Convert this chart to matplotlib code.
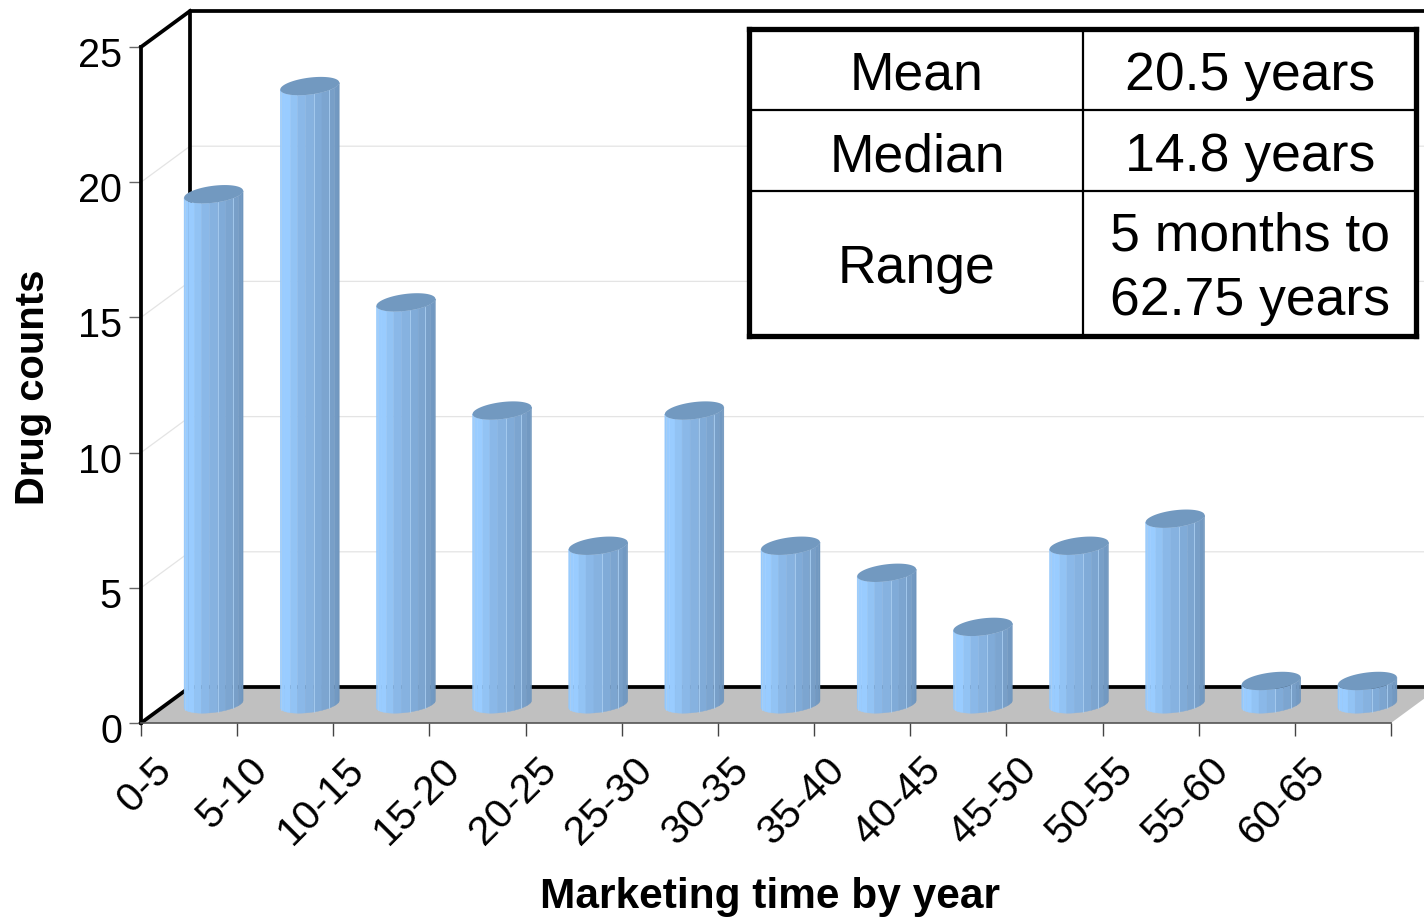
import numpy as np
import matplotlib
matplotlib.use("Agg")
import matplotlib.pyplot as plt
from matplotlib.transforms import ScaledTranslation

plt.rcParams['font.family'] = ['Liberation Sans', 'DejaVu Sans']

categories = ['0-5', '5-10', '10-15', '15-20', '20-25', '25-30', '30-35',
              '35-40', '40-45', '45-50', '50-55', '55-60', '60-65']
counts = [19, 23, 15, 11, 6, 11, 6, 5, 3, 6, 7, 1, 1]
y_ticks = [0, 5, 10, 15, 20, 25]
table_rows = [('Mean', '20.5 years'), ('Median', '14.8 years'),
              ('Range', '5 months to\n62.75 years')]

W, H = 1424, 917
L, R, B, T = 141, 1391, 723, 47
PX = (R - L) / len(categories)      # pixels per category
PY = (B - T) / 25                   # pixels per count
DX, DY = 49 / PX, 36 / PY           # chart depth in data units

fig = plt.figure(figsize=(W / 100, H / 100), dpi=100, facecolor='white')
ax = fig.add_axes([L / W, 1 - B / H, (R - L) / W, (B - T) / H])
ax.set_xlim(0, len(categories))
ax.set_ylim(0, 25)
ax.patch.set_visible(False)

# walls and floor
ax.fill([0, 13, 13 + DX, DX], [0, 0, DY, DY], color='#C0C0C0', lw=0, clip_on=False, zorder=1)
for v in y_ticks[1:]:
    ax.plot([0, DX, 13 + DX], [v, v + DY, v + DY], color='#E4E4E4', lw=0.9,
            clip_on=False, zorder=0.5)
black = dict(color='black', lw=2.7, clip_on=False, zorder=1.5, solid_capstyle='projecting')
ax.plot([DX, DX, 13 + DX], [DY, 25 + DY, 25 + DY], **black)
ax.plot([0, DX], [25, 25 + DY], **black)
ax.plot([0, DX], [0, DY], **black)
ax.plot([DX, 13 + DX], [DY, DY], **black)

# cylinders
strip_cols = ['#94C8FC', '#99CCFF', '#99CCFF', '#92C3F4', '#8AB8E8', '#86B2E0',
              '#80ABD8', '#7CA5D0', '#789FC8', '#7299C2', '#6F96BE']
top_col = '#7299C0'
a_px, b_px, s_px = 29.5, 8.5, 3.5
angles = np.linspace(np.pi, 0, len(strip_cols) + 1)


def rim(t):
    return a_px * np.cos(t) / PX, (s_px * np.cos(t) - b_px * np.sin(t)) / PY


for i, v in enumerate(counts):
    cx = i + 0.5 + 24.5 / PX
    y_top = v + 15 / PY
    y_bot = 19 / PY
    for k, col in enumerate(strip_cols):
        t = np.linspace(angles[k], angles[k + 1], 6)
        dx, dy = rim(t)
        xs = np.r_[cx + dx, (cx + dx)[::-1]]
        ys = np.r_[y_bot + dy, (y_top + dy)[::-1]]
        ax.fill(xs, ys, color=col, lw=0.3, clip_on=False, zorder=3)
        if k in (1, 6, 8):
            ax.plot([cx + dx[0]] * 2, [y_bot + dy[0], y_top + dy[0]], color='#A9CEF2',
                    lw=0.6, clip_on=False, zorder=3.1)
    t = np.linspace(0, 2 * np.pi, 80)
    dx, dy = rim(t)
    ax.fill(cx + dx, y_top + dy, color=top_col, lw=0, clip_on=False, zorder=3.2)

# axes
for s in ('top', 'right'):
    ax.spines[s].set_visible(False)
ax.spines['left'].set_linewidth(2.7)
ax.spines['left'].set_zorder(2)
ax.spines['bottom'].set_color('#555555')
ax.spines['bottom'].set_linewidth(1.2)
ax.spines['bottom'].set_zorder(4)
ax.set_yticks(y_ticks)
ax.set_xticks(np.arange(len(categories) + 1))
ax.set_xticklabels([])
ax.set_xticks(np.arange(len(categories)) + 0.5, minor=True)
ax.set_xticklabels(categories, minor=True, rotation=45, ha='right', va='top',
                   rotation_mode='anchor', fontsize=29.5)
ax.tick_params(axis='x', which='major', length=9, width=1, color='#444444', direction='out')
ax.tick_params(axis='x', which='minor', length=0, pad=20)
ax.tick_params(axis='y', length=9, width=1, color='#666666', labelsize=28.5, pad=4.7)
for lab in ax.get_yticklabels():
    lab.set_transform(lab.get_transform() + ScaledTranslation(0, -5 / 100, fig.dpi_scale_trans))
for lab in ax.get_xticklabels(minor=True):
    lab.set_transform(lab.get_transform() + ScaledTranslation(-37 / 100, 0, fig.dpi_scale_trans))

ax.set_xlabel('Marketing time by year', fontsize=30.5, fontweight='bold', va='center')
ax.xaxis.set_label_coords((770 - L) / (R - L), (B - 897) / (B - T))
ax.set_ylabel('Drug counts', fontsize=28.8, fontweight='bold', va='center')
ax.yaxis.set_label_coords((33 - L) / (R - L), (B - 387) / (B - T))

# summary table
tx0, tx1, ty0, ty1 = 749, 1416, 29, 336
tax = fig.add_axes([tx0 / W, 1 - ty1 / H, (tx1 - tx0) / W, (ty1 - ty0) / H], zorder=5)
tax.set_xlim(tx0, tx1)
tax.set_ylim(ty1, ty0)
tax.set_xticks([])
tax.set_yticks([])
tax.set_facecolor('white')
for s in tax.spines.values():
    s.set_linewidth(3.8)
tax.plot([1083, 1083], [ty0, ty1], color='black', lw=1.6)
for y in (110, 191):
    tax.plot([tx0, tx1], [y, y], color='black', lw=1.6)
row_centres = [76, 157, 269]
for (a, b), y in zip(table_rows, row_centres):
    tax.text(917, y, a, ha='center', va='center', fontsize=38.5)
    tax.text(1250, y, b, ha='center', va='center', fontsize=38.5, linespacing=1.36)

fig.savefig('out.png', dpi=100, facecolor='white')
